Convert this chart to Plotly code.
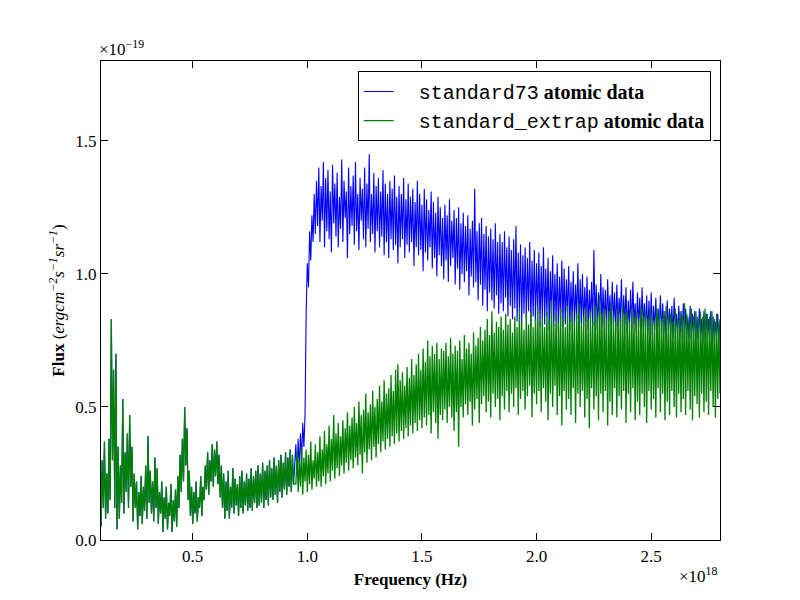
import numpy as np
import plotly.graph_objects as go

# Frequency in units of 1e18 Hz, flux in units of 1e-19 erg cm^-2 s^-1 sr^-1
# Shared low-frequency part (both atomic data sets coincide): 0.100 .. 0.940, step 0.005
low_start, low_end = 0.100, 0.940
low_common = [
    0.05, 0.30, 0.12, 0.37, 0.08, 0.25, 0.10, 0.38, 0.15, 0.83,
    0.30, 0.64, 0.12, 0.70, 0.04, 0.35, 0.08, 0.28, 0.14, 0.53,
    0.10, 0.33, 0.18, 0.40, 0.12, 0.47, 0.20, 0.35, 0.07, 0.25,
    0.12, 0.22, 0.04, 0.18, 0.09, 0.24, 0.06, 0.20, 0.11, 0.28,
    0.08, 0.39, 0.14, 0.26, 0.10, 0.22, 0.07, 0.31, 0.12, 0.27,
    0.06, 0.18, 0.10, 0.22, 0.03, 0.16, 0.08, 0.20, 0.04, 0.14,
    0.09, 0.21, 0.03, 0.15, 0.07, 0.19, 0.05, 0.24, 0.12, 0.32,
    0.18, 0.38, 0.22, 0.50, 0.28, 0.42, 0.15, 0.26, 0.09, 0.20,
    0.06, 0.18, 0.10, 0.22, 0.07, 0.16, 0.12, 0.24, 0.09, 0.20,
    0.15, 0.28, 0.19, 0.33, 0.17, 0.30, 0.22, 0.36, 0.20, 0.34,
    0.24, 0.37, 0.21, 0.32, 0.16, 0.28, 0.12, 0.25, 0.08, 0.22,
    0.11, 0.26, 0.08, 0.20, 0.12, 0.27, 0.10, 0.23, 0.13, 0.21,
    0.09, 0.24, 0.12, 0.26, 0.10, 0.22, 0.13, 0.25, 0.11, 0.23,
    0.12, 0.27, 0.11, 0.24, 0.14, 0.26, 0.12, 0.28, 0.13, 0.25,
    0.14, 0.29, 0.12, 0.26, 0.15, 0.28, 0.13, 0.30, 0.16, 0.27,
    0.15, 0.31, 0.17, 0.28, 0.14, 0.30, 0.18, 0.32, 0.16, 0.29,
    0.19, 0.33, 0.17, 0.31, 0.20, 0.34, 0.18, 0.32, 0.21,
]

# High-frequency part: 0.950 .. 2.800, step 0.005
hi_start, hi_end = 0.950, 2.800
blue_high = [
    0.36, 0.24, 0.38, 0.27, 0.40, 0.30, 0.44, 0.35, 0.47, 0.86,
    1.04, 0.95, 1.16, 1.05, 1.22, 1.12, 1.30, 1.15, 1.35, 1.18,
    1.40, 1.12, 1.33, 1.20, 1.42, 1.10, 1.36, 1.16, 1.39, 1.13,
    1.31, 1.08, 1.41, 1.19, 1.34, 1.14, 1.38, 1.10, 1.29, 1.17,
    1.43, 1.12, 1.35, 1.21, 1.31, 1.06, 1.40, 1.15, 1.33, 1.18,
    1.37, 1.11, 1.42, 1.16, 1.30, 1.09, 1.36, 1.20, 1.32, 1.13,
    1.40, 1.10, 1.34, 1.17, 1.45, 1.12, 1.30, 1.15, 1.38, 1.08,
    1.33, 1.16, 1.36, 1.10, 1.31, 1.14, 1.39, 1.07, 1.34, 1.12,
    1.30, 1.06, 1.35, 1.13, 1.32, 1.09, 1.37, 1.11, 1.29, 1.04,
    1.33, 1.10, 1.30, 1.13, 1.36, 1.06, 1.28, 1.11, 1.34, 1.08,
    1.29, 1.12, 1.32, 1.03, 1.27, 1.10, 1.35, 1.07, 1.30, 1.09,
    1.26, 1.01, 1.32, 1.08, 1.28, 1.05, 1.24, 1.10, 1.31, 1.02,
    1.27, 1.06, 1.23, 0.99, 1.29, 1.07, 1.25, 1.03, 1.21, 0.98,
    1.26, 1.05, 1.22, 0.97, 1.28, 1.03, 1.20, 1.06, 1.24, 0.96,
    1.21, 1.02, 1.25, 0.94, 1.19, 1.00, 1.23, 0.97, 1.18, 1.01,
    1.22, 0.92, 1.17, 0.99, 1.20, 0.95, 1.32, 0.97, 1.16, 0.90,
    1.19, 0.96, 1.21, 0.88, 1.15, 0.94, 1.18, 0.86, 1.14, 0.93,
    1.17, 0.90, 1.13, 0.87, 1.19, 0.92, 1.12, 0.85, 1.15, 0.89,
    1.12, 0.86, 1.16, 0.91, 1.10, 0.84, 1.14, 0.88, 1.09, 0.83,
    1.13, 0.87, 1.18, 0.82, 1.08, 0.86, 1.11, 0.81, 1.07, 0.85,
    1.10, 0.83, 1.06, 0.86, 1.12, 0.80, 1.05, 0.84, 1.09, 0.82,
    1.04, 0.85, 1.08, 0.80, 1.03, 0.83, 1.10, 0.81, 1.02, 0.84,
    1.06, 0.79, 1.01, 0.83, 1.07, 0.80, 1.00, 0.82, 1.04, 0.79,
    0.99, 0.83, 1.05, 0.80, 1.02, 0.81, 0.98, 0.84, 1.03, 0.79,
    0.97, 0.82, 1.01, 0.80, 0.96, 0.83, 1.04, 0.79, 0.98, 0.81,
    1.00, 0.80, 0.95, 0.82, 0.99, 0.79, 0.94, 0.83, 0.97, 0.80,
    1.09, 0.81, 0.96, 0.79, 0.93, 0.82, 1.00, 0.80, 0.95, 0.81,
    0.94, 0.79, 0.98, 0.82, 0.92, 0.80, 0.97, 0.81, 0.93, 0.78,
    0.96, 0.80, 0.91, 0.82, 0.98, 0.79, 0.92, 0.81, 0.95, 0.78,
    0.90, 0.80, 0.94, 0.79, 0.97, 0.81, 0.89, 0.78, 0.93, 0.80,
    0.91, 0.78, 0.95, 0.80, 0.89, 0.79, 0.92, 0.77, 0.90, 0.79,
    0.93, 0.77, 0.88, 0.79, 0.91, 0.78, 0.87, 0.80, 0.92, 0.77,
    0.89, 0.78, 0.86, 0.76, 0.90, 0.79, 0.87, 0.77, 0.88, 0.76,
    0.91, 0.78, 0.85, 0.77, 0.88, 0.76, 0.86, 0.78, 0.89, 0.75,
    0.87, 0.77, 0.84, 0.76, 0.88, 0.75, 0.85, 0.77, 0.86, 0.76,
    0.84, 0.75, 0.87, 0.76, 0.83, 0.74, 0.86, 0.76, 0.85, 0.75,
    0.83, 0.76, 0.86, 0.74, 0.84, 0.75, 0.82, 0.76, 0.85, 0.74,
    0.83,
]
green_high = [
    0.21, 0.33, 0.18, 0.30, 0.20, 0.35, 0.17, 0.31, 0.22, 0.34,
    0.18, 0.32, 0.21, 0.37, 0.19, 0.30, 0.23, 0.36, 0.20, 0.33,
    0.22, 0.39, 0.20, 0.34, 0.24, 0.41, 0.21, 0.36, 0.25, 0.43,
    0.22, 0.38, 0.26, 0.47, 0.23, 0.40, 0.27, 0.44, 0.24, 0.39,
    0.28, 0.45, 0.25, 0.42, 0.29, 0.48, 0.26, 0.43, 0.30, 0.46,
    0.27, 0.50, 0.31, 0.44, 0.28, 0.52, 0.32, 0.47, 0.25, 0.49,
    0.33, 0.55, 0.29, 0.48, 0.34, 0.51, 0.30, 0.56, 0.35, 0.50,
    0.31, 0.53, 0.36, 0.58, 0.33, 0.52, 0.37, 0.60, 0.34, 0.55,
    0.38, 0.57, 0.35, 0.62, 0.39, 0.56, 0.36, 0.64, 0.40, 0.66,
    0.37, 0.60, 0.41, 0.63, 0.38, 0.58, 0.42, 0.65, 0.39, 0.61,
    0.43, 0.68, 0.40, 0.62, 0.44, 0.66, 0.41, 0.70, 0.45, 0.64,
    0.42, 0.72, 0.46, 0.67, 0.43, 0.75, 0.47, 0.69, 0.40, 0.73,
    0.48, 0.70, 0.44, 0.74, 0.38, 0.68, 0.47, 0.72, 0.45, 0.71,
    0.49, 0.74, 0.44, 0.69, 0.50, 0.76, 0.46, 0.70, 0.41, 0.73,
    0.48, 0.71, 0.35, 0.75, 0.50, 0.68, 0.46, 0.77, 0.51, 0.72,
    0.47, 0.74, 0.52, 0.70, 0.43, 0.78, 0.49, 0.73, 0.53, 0.76,
    0.44, 0.80, 0.51, 0.75, 0.54, 0.79, 0.48, 0.83, 0.52, 0.77,
    0.46, 0.86, 0.55, 0.78, 0.50, 0.82, 0.53, 0.80, 0.45, 0.84,
    0.54, 0.79, 0.49, 0.85, 0.56, 0.81, 0.48, 0.83, 0.55, 0.78,
    0.50, 0.84, 0.57, 0.80, 0.47, 0.87, 0.53, 0.82, 0.56, 0.79,
    0.49, 0.85, 0.54, 0.81, 0.58, 0.86, 0.46, 0.80, 0.55, 0.83,
    0.51, 0.88, 0.56, 0.82, 0.48, 0.84, 0.57, 0.80, 0.52, 0.86,
    0.45, 0.83, 0.55, 0.90, 0.50, 0.81, 0.58, 0.85, 0.47, 0.82,
    0.54, 0.87, 0.43, 0.84, 0.56, 0.80, 0.49, 0.88, 0.53, 0.83,
    0.47, 0.86, 0.57, 0.82, 0.44, 0.85, 0.55, 0.89, 0.50, 0.81,
    0.56, 0.84, 0.46, 0.87, 0.53, 0.83, 0.42, 0.86, 0.57, 0.82,
    0.49, 0.88, 0.54, 0.84, 0.45, 0.92, 0.55, 0.85, 0.48, 0.87,
    0.56, 0.83, 0.43, 0.86, 0.52, 0.89, 0.47, 0.84, 0.57, 0.82,
    0.46, 0.87, 0.54, 0.83, 0.49, 0.88, 0.56, 0.85, 0.44, 0.86,
    0.55, 0.82, 0.48, 0.87, 0.57, 0.84, 0.45, 0.86, 0.52, 0.83,
    0.47, 0.88, 0.55, 0.84, 0.50, 0.86, 0.44, 0.83, 0.56, 0.87,
    0.49, 0.84, 0.53, 0.82, 0.46, 0.87, 0.57, 0.85, 0.48, 0.83,
    0.55, 0.86, 0.45, 0.88, 0.52, 0.84, 0.47, 0.85, 0.56, 0.82,
    0.50, 0.87, 0.46, 0.83, 0.55, 0.86, 0.48, 0.84, 0.53, 0.89,
    0.47, 0.85, 0.56, 0.82, 0.49, 0.87, 0.45, 0.84, 0.54, 0.86,
    0.51, 0.83, 0.46, 0.86, 0.55, 0.84, 0.48, 0.87, 0.52, 0.85,
    0.47, 0.84, 0.56, 0.86, 0.50, 0.83, 0.46, 0.85, 0.53, 0.82,
    0.55,
]

x_low = np.linspace(low_start, low_end, len(low_common))
x_blue_hi = np.linspace(hi_start, hi_end, len(blue_high))
x_green_hi = np.linspace(hi_start, hi_end, len(green_high))

x_blue = np.concatenate([x_low, x_blue_hi])
y_blue = np.array(low_common + blue_high)
x_green = np.concatenate([x_low, x_green_hi])
y_green = np.array(low_common + green_high)

serif = "Liberation Serif, DejaVu Serif, serif"
mono = "Liberation Mono"
pad = "&nbsp;" * 4

fig = go.Figure()
fig.add_trace(go.Scatter(
    x=x_blue, y=y_blue, mode="lines",
    line=dict(color="#0000ff", width=1.1),
    name=f"{pad}<span style=\"font-family:{mono}\">standard73</span> <b>atomic data</b>",
))
fig.add_trace(go.Scatter(
    x=x_green, y=y_green, mode="lines",
    line=dict(color="#008000", width=1.3),
    name=f"{pad}<span style=\"font-family:{mono}\">standard_extrap</span> <b>atomic data</b>",
))

axis_common = dict(
    showline=True, linecolor="black", linewidth=1.2, mirror="ticks",
    ticks="inside", ticklen=7, tickwidth=1, tickcolor="black",
    showgrid=False, zeroline=False,
    tickfont=dict(family=serif, size=17, color="black"),
)

fig.update_layout(
    width=800, height=600,
    margin=dict(l=101, r=80, t=61, b=60),
    paper_bgcolor="white", plot_bgcolor="white",
    showlegend=True,
    legend=dict(
        x=0.985, y=0.979, xanchor="right", yanchor="top",
        bordercolor="black", borderwidth=1, bgcolor="white",
        font=dict(family=serif, size=20, color="black"),
        tracegroupgap=0,
    ),
    xaxis=dict(
        range=[0.1, 2.8],
        tickvals=[0.5, 1.0, 1.5, 2.0, 2.5],
        ticktext=["0.5", "1.0", "1.5", "2.0", "2.5"],
        title=dict(text="<b>Frequency (Hz)</b>",
                   font=dict(family=serif, size=17, color="black"), standoff=8),
        **axis_common,
    ),
    yaxis=dict(
        range=[0, 1.8],
        tickvals=[0.0, 0.5, 1.0, 1.5],
        ticktext=["0.0", "0.5", "1.0", "1.5"],
        title=dict(text="<b>Flux</b> (<i>ergcm<sup>−2</sup>s<sup>−1</sup>sr<sup>−1</sup></i>)",
                   font=dict(family=serif, size=17, color="black"), standoff=6),
        **axis_common,
    ),
    annotations=[
        dict(text="×10<sup>−19</sup>", xref="paper", yref="paper", x=0, y=1,
             xanchor="left", yanchor="bottom", showarrow=False,
             font=dict(family=serif, size=17, color="black"), xshift=-4),
        dict(text="×10<sup>18</sup>", xref="paper", yref="paper", x=1, y=0,
             xanchor="right", yanchor="top", showarrow=False,
             font=dict(family=serif, size=17, color="black"), yshift=-22),
    ],
)

fig.write_html("out.html")
